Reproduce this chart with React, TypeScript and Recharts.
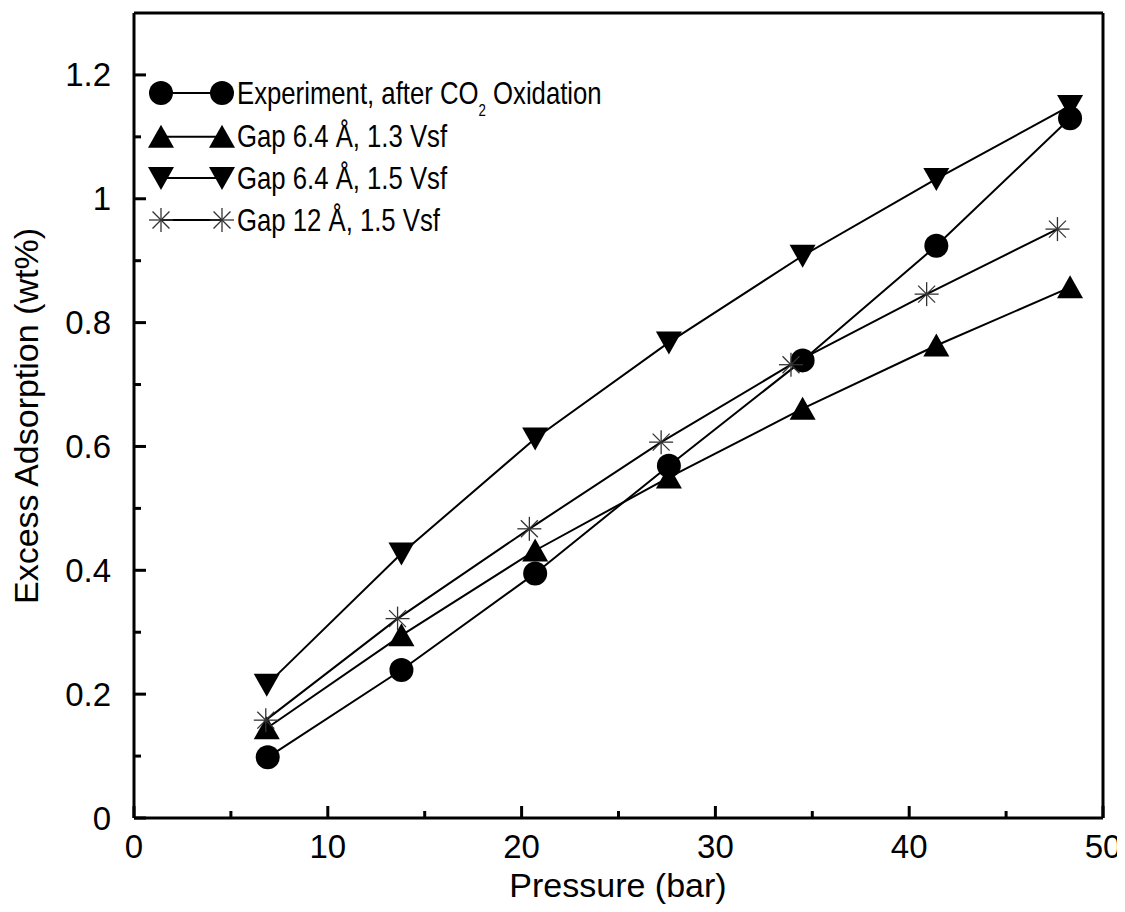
import React from 'react';
import { LineChart, Line, XAxis, YAxis, Legend } from 'recharts';

// Pressure (bar) values
const expX = [6.9, 13.8, 20.7, 27.6, 34.5, 41.4, 48.3];
const expY = [0.098, 0.239, 0.395, 0.569, 0.739, 0.924, 1.13];
const gap64v13X = [6.85, 13.8, 20.7, 27.6, 34.5, 41.4, 48.3];
const gap64v13Y = [0.145, 0.295, 0.432, 0.55, 0.661, 0.763, 0.857];
const gap64v15X = [6.85, 13.8, 20.7, 27.6, 34.5, 41.4, 48.3];
const gap64v15Y = [0.215, 0.427, 0.613, 0.768, 0.908, 1.032, 1.15];
const gap12X = [6.8, 13.6, 20.4, 27.2, 33.9, 40.9, 47.65];
const gap12Y = [0.158, 0.322, 0.467, 0.607, 0.732, 0.846, 0.951];

const xTicks = [0, 5, 10, 15, 20, 25, 30, 35, 40, 45, 50];
const yTicks = [0, 0.1, 0.2, 0.3, 0.4, 0.5, 0.6, 0.7, 0.8, 0.9, 1.0, 1.1, 1.2];

const seriesNames = [
  'Experiment, after CO2 Oxidation',
  'Gap 6.4 Å, 1.3 Vsf',
  'Gap 6.4 Å, 1.5 Vsf',
  'Gap 12 Å, 1.5 Vsf',
];

const toData = (xs: number[], ys: number[]) => xs.map((x, i) => ({ x, y: ys[i] }));

const FONT = '"Liberation Sans", Arial, Helvetica, sans-serif';

const CircleMark = ({ cx, cy }: any) => <circle cx={cx} cy={cy} r={12} fill="#000" />;
const UpMark = ({ cx, cy }: any) => (
  <polygon points={`${cx},${cy - 12} ${cx - 13},${cy + 11} ${cx + 13},${cy + 11}`} fill="#000" />
);
const DownMark = ({ cx, cy }: any) => (
  <polygon points={`${cx},${cy + 12} ${cx - 13},${cy - 11} ${cx + 13},${cy - 11}`} fill="#000" />
);
const StarMark = ({ cx, cy }: any) => {
  const r = 12;
  const d = r * 0.7071;
  return (
    <g stroke="#333" strokeWidth={1.3}>
      <line x1={cx - r} y1={cy} x2={cx + r} y2={cy} />
      <line x1={cx} y1={cy - r} x2={cx} y2={cy + r} />
      <line x1={cx - d} y1={cy - d} x2={cx + d} y2={cy + d} />
      <line x1={cx - d} y1={cy + d} x2={cx + d} y2={cy - d} />
    </g>
  );
};

const marks = [CircleMark, UpMark, DownMark, StarMark];

const dotFn = (Mark: any) => (p: any) => <Mark key={`d-${p.index}`} cx={p.cx} cy={p.cy} />;

const BottomTick = ({ x, y, payload }: any) => {
  const v = payload.value;
  const major = Math.round(v) % 10 === 0;
  return (
    <g>
      <line x1={x} x2={x} y1={y} y2={y - (major ? 12 : 7)} stroke="#000" strokeWidth={3} />
      {major && (
        <text x={x} y={y + 40} textAnchor="middle" fontSize={33} fontFamily={FONT} fill="#000">
          {v}
        </text>
      )}
    </g>
  );
};

const TopTick = ({ x, y, payload }: any) => {
  const major = Math.round(payload.value) % 10 === 0;
  return <line x1={x} x2={x} y1={y} y2={y + (major ? 12 : 7)} stroke="#000" strokeWidth={3} />;
};

const LeftTick = ({ x, y, payload }: any) => {
  const v = payload.value;
  const major = Math.round(v * 10) % 2 === 0;
  return (
    <g>
      <line x1={x} x2={x + (major ? 12 : 7)} y1={y} y2={y} stroke="#000" strokeWidth={3} />
      {major && (
        <text x={x - 23} y={y + 11.5} textAnchor="end" fontSize={33} fontFamily={FONT} fill="#000">
          {Number(v.toFixed(1)).toString()}
        </text>
      )}
    </g>
  );
};

const RightTick = ({ x, y, payload }: any) => {
  const major = Math.round(payload.value * 10) % 2 === 0;
  return <line x1={x} x2={x - (major ? 12 : 7)} y1={y} y2={y} stroke="#000" strokeWidth={3} />;
};

const rowsY = [85, 128.7, 170, 212];

const LegendSvg = () => (
  <svg width={700} height={240} style={{ display: 'block' }}>
    {seriesNames.map((name, i) => {
      const Mark = marks[i];
      const cy = rowsY[i];
      return (
        <g key={name}>
          <line x1={153} x2={214} y1={cy} y2={cy} stroke="#000" strokeWidth={2} />
          <Mark cx={153} cy={cy} />
          <Mark cx={214} cy={cy} />
          <text
            transform={`translate(229, ${cy + 10.5}) scale(0.83, 1)`}
            fontSize={31}
            fontFamily={FONT}
            fill="#000"
          >
            {i === 0 ? (
              <>
                <tspan>Experiment, after CO</tspan>
                <tspan fontSize={16} dy={12}>2</tspan>
                <tspan dy={-12}> Oxidation</tspan>
              </>
            ) : (
              name
            )}
          </text>
        </g>
      );
    })}
  </svg>
);

const series = [
  { x: expX, y: expY },
  { x: gap64v13X, y: gap64v13Y },
  { x: gap64v15X, y: gap64v15Y },
  { x: gap12X, y: gap12Y },
];

export default function App() {
  return (
    <div style={{ width: 1117, height: 902 }}>
      <LineChart width={1117} height={902} margin={{ top: 4, right: 21, bottom: 2, left: 0 }}>
        <XAxis
          dataKey="x"
          type="number"
          domain={[0, 50]}
          ticks={xTicks}
          interval={0}
          tickSize={0}
          tickMargin={0}
          height={90}
          tick={BottomTick}
          axisLine={{ stroke: '#000', strokeWidth: 3 }}
          tickLine={false}
          label={() => (
            <text x={610} y={889} textAnchor="middle" fontSize={34} fontFamily={FONT} fill="#000">
              Pressure (bar)
            </text>
          )}
        />
        <XAxis
          xAxisId="top"
          orientation="top"
          type="number"
          domain={[0, 50]}
          ticks={xTicks}
          interval={0}
          tickSize={0}
          tickMargin={0}
          height={1}
          tick={TopTick}
          axisLine={{ stroke: '#000', strokeWidth: 3 }}
          tickLine={false}
        />
        <YAxis
          type="number"
          domain={[0, 1.3]}
          ticks={yTicks}
          interval={0}
          tickSize={0}
          tickMargin={0}
          width={126}
          tick={LeftTick}
          axisLine={{ stroke: '#000', strokeWidth: 3 }}
          tickLine={false}
          label={() => (
            <text
              transform="translate(30, 408) rotate(-90)"
              textAnchor="middle"
              fontSize={34}
              fontFamily={FONT}
              fill="#000"
            >
              Excess Adsorption (wt%)
            </text>
          )}
        />
        <YAxis
          yAxisId="right"
          orientation="right"
          type="number"
          domain={[0, 1.3]}
          ticks={yTicks}
          interval={0}
          tickSize={0}
          tickMargin={0}
          width={1}
          tick={RightTick}
          axisLine={{ stroke: '#000', strokeWidth: 3 }}
          tickLine={false}
        />
        <Legend
          layout="vertical"
          align="center"
          verticalAlign="middle"
          wrapperStyle={{ left: 0, top: 0, width: 700, height: 240 }}
          content={() => <LegendSvg />}
        />
        {series.map((s, i) => (
          <Line
            key={seriesNames[i]}
            name={seriesNames[i]}
            data={toData(s.x, s.y)}
            dataKey="y"
            stroke="#000"
            strokeWidth={2}
            dot={dotFn(marks[i])}
            activeDot={false}
            isAnimationActive={false}
          />
        ))}
      </LineChart>
    </div>
  );
}
